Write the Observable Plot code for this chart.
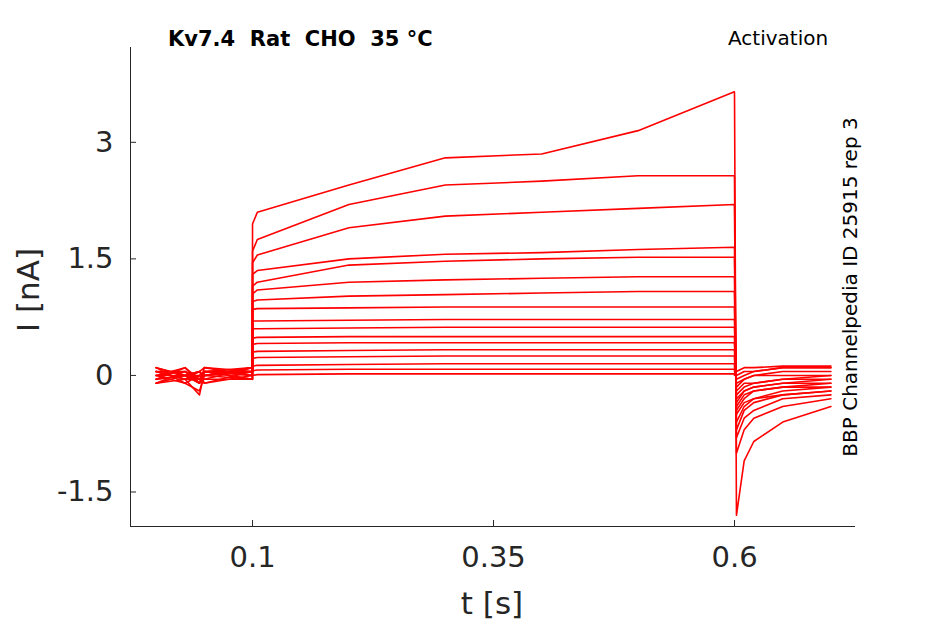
<!DOCTYPE html>
<html><head><meta charset="utf-8">
<script src="https://cdn.jsdelivr.net/npm/d3@7"></script>
<script src="https://cdn.jsdelivr.net/npm/@observablehq/plot@0.6"></script>
<style>body{margin:0;background:#fff;font-family:"DejaVu Sans",sans-serif}#c{position:relative;width:945px;height:624px}
.t{position:absolute;font-size:20px;color:#000}.a{position:absolute;font-size:31px;color:#262626;white-space:nowrap}</style></head><body><div id="c"></div>
<script>
const times = [0, 0.03, 0.045, 0.05, 0.0999, 0.1, 0.105, 0.2, 0.3, 0.4, 0.5, 0.5999, 0.6, 0.602, 0.61, 0.62, 0.65, 0.7];
const traces = [
 [0.05,-0.05,-0.25,0.05,0.1, 1.95,2.1,2.45,2.8,2.85,3.15,3.65, 3.6,-1.8,-1.1,-0.85,-0.6,-0.4],
 [0.0,-0.1,-0.2,0.0,0.05, 1.6,1.75,2.2,2.45,2.5,2.57,2.57, 2.5,-1.0,-0.7,-0.55,-0.4,-0.3],
 [-0.05,0.0,-0.1,0.05,0.0, 1.45,1.55,1.9,2.05,2.1,2.15,2.2, 2.1,-0.8,-0.55,-0.45,-0.3,-0.25],
 [0.1,0.0,-0.1,0.1,0.05, 1.3,1.35,1.5,1.56,1.58,1.62,1.65, 1.6,-0.7,-0.45,-0.35,-0.25,-0.2],
 [-0.1,0.05,-0.05,0.0,-0.05, 1.15,1.2,1.42,1.47,1.5,1.52,1.52, 1.5,-0.6,-0.4,-0.3,-0.2,-0.15],
 [0.05,-0.05,0.0,-0.1,0.05, 1.05,1.1,1.2,1.23,1.25,1.27,1.27, 1.2,-0.5,-0.35,-0.3,-0.25,-0.2],
 [0.0,0.1,-0.05,0.05,0.0, 0.95,0.97,1.02,1.04,1.06,1.08,1.08, 1.0,-0.45,-0.3,-0.2,-0.15,-0.1],
 [-0.05,0.0,0.05,-0.05,0.1, 0.85,0.86,0.87,0.88,0.88,0.88,0.88, 0.8,-0.4,-0.25,-0.2,-0.15,-0.15],
 [0.1,-0.1,0.0,0.05,-0.05, 0.7,0.7,0.71,0.72,0.72,0.72,0.72, 0.7,-0.35,-0.2,-0.15,-0.1,-0.05],
 [0.0,0.05,-0.1,0.0,0.05, 0.6,0.6,0.61,0.62,0.62,0.62,0.62, 0.6,-0.3,-0.2,-0.15,-0.1,-0.1],
 [-0.1,0.0,0.05,0.1,0.0, 0.48,0.49,0.5,0.5,0.5,0.5,0.5, 0.45,-0.25,-0.15,-0.1,-0.05,0.0],
 [0.05,-0.05,-0.05,0.0,0.1, 0.4,0.41,0.42,0.42,0.42,0.42,0.42, 0.4,-0.2,-0.1,-0.1,-0.05,-0.05],
 [0.0,0.0,0.05,-0.05,-0.05, 0.3,0.31,0.32,0.33,0.33,0.33,0.33, 0.3,-0.15,-0.05,0.0,0.05,0.05],
 [-0.05,0.1,-0.1,0.05,0.05, 0.22,0.23,0.24,0.25,0.25,0.25,0.25, 0.2,-0.1,-0.05,0.0,0.0,0.0],
 [0.1,0.0,0.0,-0.1,0.0, 0.12,0.13,0.14,0.15,0.15,0.15,0.15, 0.1,-0.05,0.0,0.05,0.1,0.1],
 [-0.1,-0.05,0.05,0.0,0.1, 0.06,0.07,0.08,0.08,0.08,0.08,0.08, 0.05,0.0,0.05,0.05,0.1,0.1],
 [0.05,0.05,-0.05,0.05,-0.05, 0.0,0.01,0.02,0.02,0.02,0.02,0.02, 0.0,0.05,0.1,0.1,0.12,0.12]
];
const xTicks = [0.1, 0.35, 0.6];
const yTicks = [-1.5, 0, 1.5, 3];
const rows = traces.flatMap((v,i)=>v.map((y,j)=>({t:times[j], i:i, y:y})));
const plot = Plot.plot({
  width:945, height:624, marginLeft:130, marginRight:90, marginTop:47, marginBottom:98,
  style:{fontSize:"29px", fontFamily:"DejaVu Sans", color:"#262626"},
  x:{domain:[-0.0266,0.7255], ticks:xTicks, tickFormat:d=>String(d), label:null, tickSize:-6, tickPadding:26},
  y:{domain:[-1.944,4.22], ticks:yTicks, tickFormat:d=>String(d), label:null, tickSize:-6, tickPadding:23},
  marks:[
    Plot.line(rows,{x:"t", y:"y", z:"i", stroke:"red", strokeWidth:1.6}),
    Plot.ruleX([-0.0266],{stroke:"#262626"}),
    Plot.ruleY([-1.944],{stroke:"#262626"})
  ]
});
document.getElementById("c").appendChild(plot);
</script>
<div class="t" style="left:168px;top:27px;font-weight:bold;font-size:21px">Kv7.4&nbsp; Rat&nbsp; CHO&nbsp; 35 °C</div>
<div class="t" style="left:728px;top:26px">Activation</div>
<div class="t" style="left:850px;top:287px;transform:translate(-50%,-50%) rotate(-90deg);white-space:nowrap">BBP Channelpedia ID 25915 rep 3</div>
<div class="a" style="left:492px;top:603px;transform:translate(-50%,-50%)">t [s]</div>
<div class="a" style="left:28px;top:290px;transform:translate(-50%,-50%) rotate(-90deg)">I [nA]</div>
</body></html>
